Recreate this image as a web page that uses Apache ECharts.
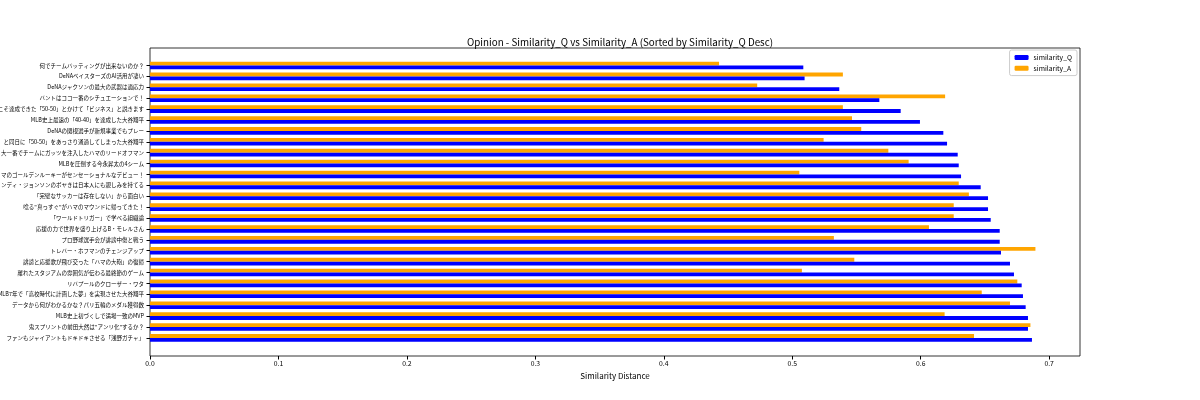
<!DOCTYPE html>
<html>
<head>
<meta charset="utf-8">
<script src="https://cdn.jsdelivr.net/npm/echarts@6/dist/echarts.min.js"></script>
<style>
    html, body { margin: 0; padding: 0; background: #fff; }
    #bar-chart { width: 1200px; height: 400px; }
</style>
</head>
<body>
<div id="bar-chart"></div>
<script>
// bottom to top, sorted by similarity_Q desc
const categories = [
    'ファンもジャイアントもドキドキさせる「浅野ガチャ」',
    '鬼スプリントの前田大然は"アンリ化"するか？',
    'MLB史上初づくしで満場一致のMVP',
    'データから何がわかるかな？パリ五輪のメダル獲得数',
    'MLB7年で「高校時代に計画した夢」を実現させた大谷翔平',
    'リバプールのクローザー・ワタ',
    '離れたスタジアムの雰囲気が伝わる最終節のゲーム',
    '誹謗と応援歌が飛び交った「ハマの大砲」の復帰',
    'トレバー・ホフマンのチェンジアップ',
    'プロ野球選手会が誹謗中傷と戦う',
    '応援の力で世界を盛り上げるB・モレルさん',
    '「ワールドトリガー」で学べる組織論',
    '唸る"真っすぐ"がハマのマウンドに帰ってきた！',
    '「完璧なサッカーは存在しない」から面白い',
    'ンディ・ジョンソンのボヤきは日本人にも親しみを持てる',
    'マのゴールデンルーキーがセンセーショナルなデビュー！',
    'MLBを圧倒する今永昇太の4シーム',
    '大一番でチームにガッツを注入したハマのリードオフマン',
    'と同日に「50-50」をあっさり通過してしまった大谷翔平',
    'DeNAの関根選手が新規事業でもプレー',
    'MLB史上最速の「40-40」を達成した大谷翔平',
    'こそ達成できた「50-50」とかけて「ビジネス」と説きます',
    'バントはココ一番のシチュエーションで！',
    'DeNAジャクソンの最大の武器は適応力',
    'DeNAベイスターズのAI活用が凄い',
    '何でチームバッティングが出来ないのか？'
];

const similarityQ = [
    0.6866, 0.6835, 0.6835, 0.6817, 0.6796, 0.6786, 0.6726, 0.6695, 0.6625,
    0.6615, 0.6615, 0.6545, 0.6524, 0.6524, 0.6467, 0.6314, 0.6296, 0.6288,
    0.6205, 0.6176, 0.5994, 0.5844, 0.5678, 0.5366, 0.5096, 0.5086
];

const similarityA = [
    0.6415, 0.6854, 0.6186, 0.6695, 0.6475, 0.6752, 0.5075, 0.5483, 0.6893,
    0.5324, 0.6064, 0.6257, 0.6257, 0.6375, 0.6296, 0.5055, 0.5906, 0.5748,
    0.5244, 0.5537, 0.5465, 0.5394, 0.6190, 0.4727, 0.5394, 0.4430
];

const xTicks = [0, 0.1, 0.2, 0.3, 0.4, 0.5, 0.6, 0.7];

const FONT = 'Noto Sans CJK JP';

const chart = echarts.init(document.getElementById('bar-chart'));

const option = {
    backgroundColor: '#fff',
    animation: false,
    textStyle: { fontFamily: FONT },
    title: {
        text: 'Opinion - Similarity_Q vs Similarity_A (Sorted by Similarity_Q Desc)',
        left: 615,
        textAlign: 'center',
        top: 32,
        textStyle: { fontSize: 9.8, fontWeight: 'normal', color: '#000', fontFamily: FONT }
    },
    legend: {
        orient: 'vertical',
        right: 123,
        top: 50,
        itemWidth: 14,
        itemHeight: 5,
        itemGap: 4,
        padding: [4, 5],
        borderColor: '#ccc',
        borderWidth: 1,
        borderRadius: 2,
        align: 'left',
        textStyle: { fontSize: 6.8, color: '#000', fontFamily: FONT },
        data: ['similarity_Q', 'similarity_A']
    },
    grid: [
        { left: 150, right: 120, top: 60.05, bottom: 56.65, outerBoundsMode: 'none', containLabel: false },
        { left: 150, right: 120, top: 48, bottom: 44, outerBoundsMode: 'none', containLabel: false, show: true, borderColor: '#000', borderWidth: 0.8, backgroundColor: 'transparent' }
    ],
    xAxis: [
        {
            type: 'value',
            gridIndex: 0,
            min: 0,
            max: 0.724,
            offset: 12.65,
            name: 'Similarity Distance',
            nameLocation: 'middle',
            nameGap: 13,
            nameTextStyle: { fontSize: 8, color: '#000', fontFamily: FONT },
            axisLine: { show: false },
            axisTick: { show: true, length: 3.5, customValues: xTicks, lineStyle: { color: '#000' } },
            axisLabel: {
                customValues: xTicks,
                fontSize: 6.8,
                margin: 4,
                color: '#000',
                fontFamily: FONT,
                formatter: v => v.toFixed(1)
            },
            splitLine: { show: false }
        },
        { type: 'value', gridIndex: 1, show: false, min: 0, max: 1 }
    ],
    yAxis: [
        {
            type: 'category',
            gridIndex: 0,
            data: categories,
            axisLine: { show: false },
            axisTick: { show: true, alignWithLabel: true, length: 3.5, lineStyle: { color: '#000' } },
            axisLabel: {
                interval: 0,
                fontSize: 5.5,
                margin: 6,
                color: '#000',
                fontFamily: FONT
            },
            splitLine: { show: false }
        },
        { type: 'value', gridIndex: 1, show: false, min: 0, max: 1 }
    ],
    series: [
        {
            name: 'similarity_A',
            type: 'bar',
            xAxisIndex: 0,
            yAxisIndex: 0,
            data: similarityA,
            barWidth: 3.8,
            barGap: '0%',
            itemStyle: { color: '#ffa500' }
        },
        {
            name: 'similarity_Q',
            type: 'bar',
            xAxisIndex: 0,
            yAxisIndex: 0,
            data: similarityQ,
            barWidth: 3.8,
            barGap: '0%',
            itemStyle: { color: '#0000ff' }
        }
    ]
};

chart.setOption(option);
</script>
</body>
</html>
